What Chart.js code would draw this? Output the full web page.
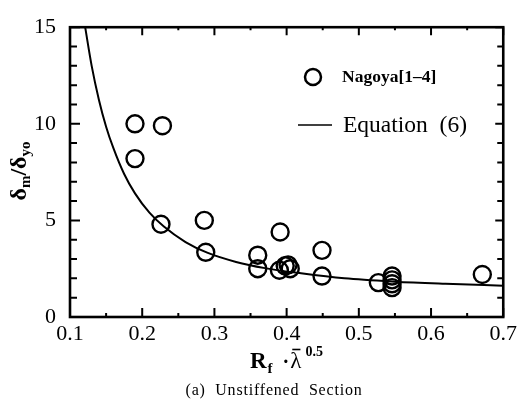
<!DOCTYPE html>
<html>
<head>
<meta charset="utf-8">
<script src="https://cdn.jsdelivr.net/npm/chart.js@4"></script>
<style>
html,body{margin:0;padding:0;background:#fff;}
#wrap{width:521px;height:408px;position:relative;}
</style>
</head>
<body>
<div id="wrap"><canvas id="c" width="521" height="408"></canvas></div>
<script>
// ---- data ----
const xValues = [0.19, 0.228, 0.19, 0.226, 0.286, 0.288, 0.36, 0.36, 0.391, 0.39, 0.398, 0.402, 0.405, 0.449, 0.449, 0.527, 0.546, 0.546, 0.546, 0.546, 0.671];
const yValues = [10.0, 9.9, 8.2, 4.8, 5.0, 3.35, 3.2, 2.5, 4.4, 2.42, 2.65, 2.7, 2.5, 3.45, 2.12, 1.78, 2.12, 1.92, 1.72, 1.52, 2.2];
const curveX = [0.121, 0.13, 0.14, 0.15, 0.16, 0.175, 0.19, 0.21, 0.23, 0.26, 0.29, 0.33, 0.37, 0.42, 0.48, 0.55, 0.62, 0.70];
const curveY = [15.0, 13.0, 11.25, 9.85, 8.75, 7.4, 6.4, 5.4, 4.68, 3.88, 3.33, 2.85, 2.53, 2.26, 2.0, 1.83, 1.72, 1.62];
const xTicks = [0.1, 0.2, 0.3, 0.4, 0.5, 0.6, 0.7];
const xMinor = [0.15, 0.25, 0.35, 0.45, 0.55, 0.65];
const yTicks = [0, 5, 10, 15];
const yMinor = [1, 2, 3, 4, 6, 7, 8, 9, 11, 12, 13, 14];
const seriesNames = ['Nagoya[1\u20134]', 'Equation  (6)'];
const xTitle = ['R', 'f', '  \u00b7', '\u03bb', '0.5'];
const yTitle = ['\u03b4', 'm', '/\u03b4', 'yo'];
const caption = '(a)  Unstiffened  Section';

const SERIF = '"Liberation Serif", "DejaVu Serif", serif';

function drawRich(ctx, parts, x, y) {
  let cx = x;
  const pos = [];
  for (const p of parts) {
    ctx.font = p.font;
    const w = ctx.measureText(p.t).width;
    ctx.fillText(p.t, cx, y + (p.dy || 0));
    pos.push({x: cx, w: w});
    cx += w + (p.gap || 0);
  }
  return pos;
}
function richWidth(ctx, parts) {
  let w = 0;
  for (const p of parts) { ctx.font = p.font; w += ctx.measureText(p.t).width + (p.gap || 0); }
  return w;
}

const decorPlugin = {
  id: 'decor',
  afterDatasetsDraw(chart) {
    const ctx = chart.ctx, a = chart.chartArea;
    const xs = chart.scales.x, ys = chart.scales.y;
    ctx.save();
    ctx.strokeStyle = '#000';
    ctx.fillStyle = '#000';
    // frame
    ctx.lineWidth = 2.6;
    ctx.strokeRect(a.left, a.top, a.right - a.left, a.bottom - a.top);
    // ticks
    ctx.lineWidth = 2;
    ctx.beginPath();
    const tx = (vals, lb, lt) => vals.forEach(v => {
      const p = xs.getPixelForValue(v);
      ctx.moveTo(p, a.bottom); ctx.lineTo(p, a.bottom - lb);
      ctx.moveTo(p, a.top); ctx.lineTo(p, a.top + lt);
    });
    const ty = (vals, ll, lr) => vals.forEach(v => {
      const p = ys.getPixelForValue(v);
      ctx.moveTo(a.left, p); ctx.lineTo(a.left + ll, p);
      ctx.moveTo(a.right, p); ctx.lineTo(a.right - lr, p);
    });
    tx(xTicks, 9, 8); tx(xMinor, 4, 3);
    ty(yTicks, 10, 8); ty(yMinor, 7, 6);
    ctx.stroke();

    // legend
    ctx.lineWidth = 2.5;
    ctx.beginPath(); ctx.arc(313, 77, 8, 0, Math.PI * 2); ctx.stroke();
    ctx.textBaseline = 'middle'; ctx.textAlign = 'left';
    ctx.font = 'bold 17.5px ' + SERIF;
    ctx.fillText(seriesNames[0], 342, 77);
    ctx.lineWidth = 1.6;
    ctx.beginPath(); ctx.moveTo(298, 125); ctx.lineTo(332, 125); ctx.stroke();
    ctx.font = '23.5px ' + SERIF;
    ctx.fillText(seriesNames[1], 343, 126);

    // x title
    ctx.textBaseline = 'alphabetic';
    const xp = [
      {t: xTitle[0], font: 'bold 23px ' + SERIF, gap: 1},
      {t: xTitle[1], font: 'bold 15px ' + SERIF, dy: 5},
      {t: xTitle[2], font: 'bold 20px ' + SERIF, gap: 1},
      {t: xTitle[3], font: '23px ' + SERIF, gap: 4},
      {t: xTitle[4], font: 'bold 14px ' + SERIF, dy: -12}
    ];
    const pos = drawRich(ctx, xp, 250, 368);
    // bar over lambda
    ctx.lineWidth = 1.6;
    ctx.beginPath();
    ctx.moveTo(pos[3].x + 2, 349.5);
    ctx.lineTo(pos[3].x + pos[3].w - 1, 349.5);
    ctx.stroke();

    // y title (rotated)
    ctx.save();
    ctx.translate(26, 171);
    ctx.rotate(-Math.PI / 2);
    const yp = [
      {t: yTitle[0], font: 'bold 24px ' + SERIF},
      {t: yTitle[1], font: 'bold 15px ' + SERIF, dy: 4},
      {t: yTitle[2], font: 'bold 24px ' + SERIF},
      {t: yTitle[3], font: 'bold 15px ' + SERIF, dy: 4}
    ];
    const w = richWidth(ctx, yp);
    drawRich(ctx, yp, -w / 2, 0);
    ctx.restore();

    // caption
    ctx.font = '16px ' + SERIF;
    ctx.textAlign = 'center';
    ctx.textBaseline = 'middle';
    try { ctx.letterSpacing = '0.8px'; } catch (e) {}
    ctx.fillText(caption, 274, 391);
    ctx.restore();
  }
};

const ctx = document.getElementById('c').getContext('2d');
new Chart(ctx, {
  type: 'scatter',
  data: {
    datasets: [
      {
        label: seriesNames[0],
        data: xValues.map((x, i) => ({x: x, y: yValues[i]})),
        showLine: false,
        pointStyle: 'circle',
        pointRadius: 8.5,
        pointHoverRadius: 8.5,
        borderColor: '#000',
        backgroundColor: 'rgba(0,0,0,0)',
        borderWidth: 2.4,
        order: 1
      },
      {
        label: seriesNames[1],
        data: curveX.map((x, i) => ({x: x, y: curveY[i]})),
        showLine: true,
        pointRadius: 0,
        borderColor: '#000',
        borderWidth: 2,
        tension: 0.4,
        cubicInterpolationMode: 'monotone',
        fill: false,
        order: 2
      }
    ]
  },
  options: {
    responsive: false,
    animation: false,
    events: [],
    layout: {padding: {left: 0, right: 14, top: 15, bottom: 0}},
    plugins: {legend: {display: false}, tooltip: {enabled: false}},
    scales: {
      x: {
        type: 'linear', min: 0.1, max: 0.7,
        grid: {display: false, drawTicks: false},
        border: {display: false},
        afterBuildTicks: s => { s.ticks = xTicks.map(v => ({value: v})); },
        afterFit: s => { s.height = 91; },
        ticks: {
          color: '#000', padding: 4, maxRotation: 0, autoSkip: false,
          font: {family: SERIF, size: 22},
          callback: v => Number(v).toFixed(1)
        }
      },
      y: {
        type: 'linear', min: 0, max: 15,
        grid: {display: false, drawTicks: false},
        border: {display: false},
        afterBuildTicks: s => { s.ticks = yTicks.map(v => ({value: v})); },
        afterFit: s => { s.width = 70; },
        ticks: {
          color: '#000', padding: 14, autoSkip: false,
          font: {family: SERIF, size: 22},
          callback: v => String(v)
        }
      }
    }
  },
  plugins: [decorPlugin]
});
</script>
</body>
</html>
